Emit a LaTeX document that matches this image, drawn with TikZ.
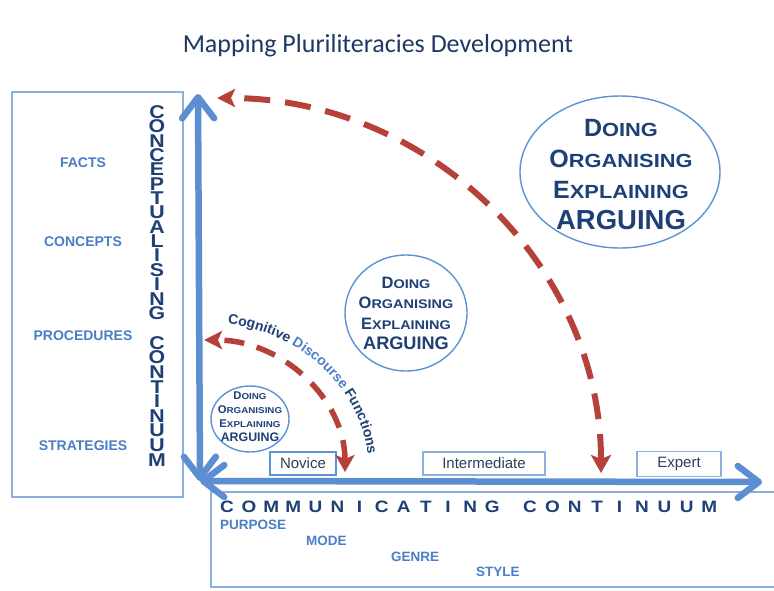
\documentclass[tikz,border=0pt]{standalone}
\usepackage{fontspec}
\usepackage{graphicx}
\setmainfont{Liberation Sans}
\newfontfamily\titlefont{Carlito}
\newfontfamily\scfont{Liberation Sans}[FakeStretch=1.15]
\usetikzlibrary{arrows.meta,shapes.geometric,decorations.text}
\definecolor{navy}{HTML}{1F3F77}
\definecolor{titlec}{HTML}{1F3864}
\definecolor{lblue}{HTML}{4A7EC6}
\definecolor{arrowblue}{HTML}{5B8FD1}
\definecolor{frameblue}{HTML}{8CB0DE}
\definecolor{ellblue}{HTML}{5B93D3}
\definecolor{darkred}{HTML}{B6413B}
\definecolor{boxtext}{HTML}{2C3E5C}
\newcommand\fbg[1]{{\fontsize{25}{31}\selectfont #1}}
\newcommand\fsm[1]{{\scfont\bfseries\fontsize{19}{31}\selectfont #1}}
\newcommand\dofuncs[1]{\scalebox{#1}{\fontsize{25}{31}\selectfont\bfseries\color{navy}%
\begin{tabular}{@{}c@{}}
\fbg{D}\fsm{OING}\\
\fbg{O}\fsm{RGANISING}\\
\fbg{E}\fsm{XPLAINING}\\
{\fontsize{27.5}{31}\selectfont ARGUING}
\end{tabular}}}
\begin{document}
\begin{tikzpicture}[x=1pt,y=-1pt,
  frame/.style={draw=frameblue,line width=1.3pt},
  lab/.style={font=\bfseries\fontsize{14}{14}\selectfont,text=lblue,inner sep=0pt},
  sublab/.style={font=\bfseries\fontsize{13.5}{13.5}\selectfont,text=lblue,inner sep=0pt,anchor=west},
  vlet/.style={font=\scfont\bfseries\fontsize{18.5}{18.5}\selectfont,text=navy,inner sep=0pt},
  hlet/.style={font=\scfont\bfseries\fontsize{16.5}{16.5}\selectfont,text=navy,inner sep=0pt},
  levelbox/.style={draw=frameblue,line width=1.1pt,minimum height=23pt,inner sep=0pt,font=\fontsize{15}{15}\selectfont,text=boxtext},
  bluearrow/.style={draw=arrowblue,line width=6.5pt,{Straight Barb[length=21pt,width=32pt,round]}-{Straight Barb[length=21pt,width=32pt,round]}},
  redbig/.style={draw=darkred,line width=6pt,dash pattern=on 26pt off 15pt,{Stealth[length=18pt,width=20pt,inset=4pt]}-{Stealth[length=18pt,width=18pt,inset=4pt]}},
  redsmall/.style={draw=darkred,line width=5.5pt,dash pattern=on 20pt off 13pt,{Stealth[length=17pt,width=19pt,inset=4pt]}-{Stealth[length=18pt,width=18pt,inset=4pt]}},
  ell/.style={ellipse,draw=ellblue,line width=1.4pt,inner sep=0pt}
]
\useasboundingbox (0,0) rectangle (774,590);
\fill[white] (0,0) rectangle (774,590);

% title
\node[font=\titlefont\fontsize{26}{30}\selectfont,text=titlec] (title) at (378,46) {Mapping Pluriliteracies Development};

% frames
\draw[frame] (12,92) rectangle (183,497);
\draw[frame] (780,492) -- (211,492) -- (211,587) -- (780,587);

% left labels
\node[lab] (facts) at (83,163) {FACTS};
\node[lab] (concepts) at (83,242) {CONCEPTS};
\node[lab] (procedures) at (83,336) {PROCEDURES};
\node[lab] (strategies) at (83,446) {STRATEGIES};

% vertical title
\foreach \ch [count=\i from 0] in {C,O,N,C,E,P,T,U,A,L,I,S,I,N,G}
  \node[vlet] (cl\i) at (157,{112+14.36*\i}) {\ch};
\foreach \ch [count=\i from 0] in {C,O,N,T,I,N,U,U,M}
  \node[vlet] (cc\i) at (157,{343+14.6*\i}) {\ch};

% horizontal title
\foreach \ch [count=\i from 0] in {C,O,M,M,U,N,I,C,A,T,I,N,G}
  \node[hlet] (hm\i) at ({227+22.1*\i},507) {\ch};
\foreach \ch [count=\i from 0] in {C,O,N,T,I,N,U,U,M}
  \node[hlet] (hc\i) at ({530+22.4*\i},507) {\ch};

% bottom labels
\node[sublab] (purpose) at (220,525) {PURPOSE};
\node[sublab] (mode) at (306,541) {MODE};
\node[sublab] (genre) at (391,557) {GENRE};
\node[sublab] (style) at (476,572) {STYLE};

% level boxes
\node[levelbox,draw=ellblue,minimum width=66pt] (novice) at (303,463.5) {Novice};
\node[levelbox,minimum width=122pt] (inter) at (484,463.5) {Intermediate};
\node[levelbox,minimum width=84pt,minimum height=25pt] (expert) at (679,464) {Expert};

% axes
\coordinate (O) at (200,481);
\coordinate (T) at (198,94);
\coordinate (R) at (762,482);
\draw[bluearrow] (O) -- (T);
\draw[bluearrow] (O) -- (R);

% red arcs
\coordinate (bigS) at (601,473);
\draw[redbig] (bigS) arc[start angle=0,end angle=-90,x radius=384,y radius=375];
\coordinate (smS) at (345,472);
\draw[redsmall] (smS) arc[start angle=0,end angle=-90,x radius=141,y radius=132];

% curved label
\coordinate (cdA) at (209.8,322.1);
\path[decorate,decoration={text along path,text align=center,
  text={|\bfseries\fontsize{14}{14}\selectfont\color{navy}|Cognitive| \bfseries\fontsize{14}{14}\selectfont\color{lblue}| Discourse| \bfseries\fontsize{14}{14}\selectfont\color{navy}| Functions}}]
  (cdA) arc[start angle=-88,end angle=0,x radius=165,y radius=150];

% ellipses
\node[ell,minimum width=78pt,minimum height=66pt] (esmall) at (250,419) {};
\node (tsmall) at (250,418) {\dofuncs{0.45}};
\node[ell,minimum width=122pt,minimum height=116pt] (emid) at (406,313) {};
\node (tmid) at (406,315) {\dofuncs{0.66}};
\node[ell,minimum width=200pt,minimum height=152pt] (ebig) at (620,172) {};
\node (tbig) at (621,177) {\dofuncs{1}};
\end{tikzpicture}
\end{document}
